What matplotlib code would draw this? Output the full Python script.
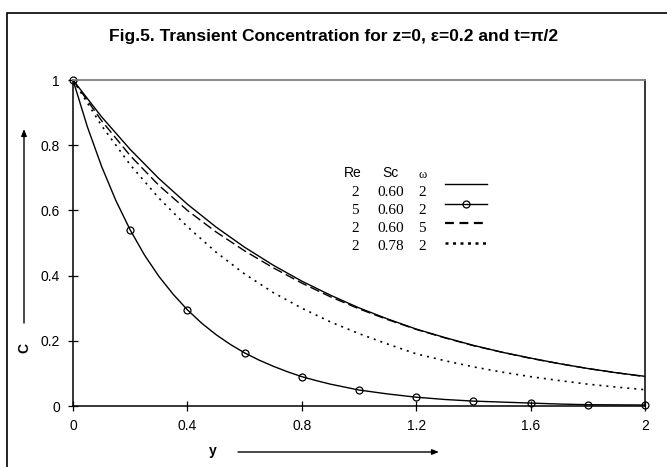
import matplotlib
matplotlib.use("Agg")
import matplotlib.pyplot as plt
from matplotlib.lines import Line2D
from matplotlib.patches import FancyArrowPatch, Rectangle

y_vals = [0.0, 0.1, 0.2, 0.3, 0.4, 0.5, 0.6, 0.7, 0.8, 0.9, 1.0,
          1.1, 1.2, 1.3, 1.4, 1.5, 1.6, 1.7, 1.8, 1.9, 2.0]
c_re2_sc060_w2 = [1.0, 0.887, 0.787, 0.698, 0.619, 0.549, 0.487, 0.432, 0.383, 0.340, 0.301,
                  0.267, 0.236, 0.210, 0.186, 0.165, 0.147, 0.130, 0.115, 0.102, 0.091]
c_re2_sc060_w5 = [1.0, 0.875, 0.768, 0.677, 0.600, 0.534, 0.476, 0.424, 0.377, 0.335, 0.298,
                  0.265, 0.235, 0.209, 0.185, 0.165, 0.146, 0.130, 0.115, 0.102, 0.090]
c_re2_sc078_w2 = [1.0, 0.860, 0.740, 0.638, 0.550, 0.472, 0.405, 0.348, 0.300, 0.258, 0.222,
                  0.190, 0.160, 0.139, 0.120, 0.104, 0.090, 0.078, 0.067, 0.058, 0.050]

# Re=5 curve read more finely near the wall (steep part)
y_re5 = [0.0, 0.05, 0.1, 0.15, 0.2, 0.25, 0.3, 0.35, 0.4, 0.45, 0.5, 0.55, 0.6, 0.65, 0.7,
         0.75, 0.8, 0.85, 0.9, 0.95, 1.0, 1.1, 1.2, 1.3, 1.4, 1.5, 1.6, 1.7, 1.8, 1.9, 2.0]
c_re5_sc060_w2 = [1.0, 0.857, 0.735, 0.630, 0.540, 0.463, 0.398, 0.343, 0.295, 0.254, 0.219,
                  0.189, 0.163, 0.141, 0.122, 0.105, 0.090, 0.078, 0.067, 0.058, 0.049,
                  0.037, 0.027, 0.020, 0.015, 0.012, 0.009, 0.006, 0.004, 0.0035, 0.003]
re5_marker_idx = [0, 4, 8, 12, 16, 20, 22, 24, 26, 28, 30]

x_ticks = [0, 0.4, 0.8, 1.2, 1.6, 2]
x_ticklabels = ["0", "0.4", "0.8", "1.2", "1.6", "2"]
y_ticks = [0, 0.2, 0.4, 0.6, 0.8, 1]
y_ticklabels = ["0", "0.2", "0.4", "0.6", "0.8", "1"]

legend_rows = [("2", "0.60", "2"), ("5", "0.60", "2"), ("2", "0.60", "5"), ("2", "0.78", "2")]

plt.rcParams['font.family'] = ['Liberation Sans', 'DejaVu Sans']

W, H = 667, 467
fig = plt.figure(figsize=(W / 100, H / 100), dpi=100)
ax = fig.add_axes([73 / W, 1 - 406 / H, (645 - 73) / W, (406 - 80) / H])

ax.plot(y_vals, c_re2_sc060_w2, color='black', lw=1.0)
ax.plot(y_re5, c_re5_sc060_w2, color='black', lw=1.0, marker='o', markevery=re5_marker_idx,
        markersize=5, markerfacecolor='none', markeredgecolor='black', markeredgewidth=0.9,
        clip_on=False)
ax.plot(y_vals, c_re2_sc060_w5, color='black', lw=1.0, dashes=(7, 3))
ax.plot(y_vals, c_re2_sc078_w2, color='black', lw=1.2, dashes=(1.2, 3))

ax.set_xlim(0, 2)
ax.set_ylim(0, 1)
ax.set_xticks(x_ticks)
ax.set_xticklabels(x_ticklabels)
ax.set_yticks(y_ticks)
ax.set_yticklabels(y_ticklabels)
ax.tick_params(direction='inout', length=7, width=0.9, labelsize=10, pad=6)
for s in ['left', 'bottom', 'right']:
    ax.spines[s].set_color('black')
    ax.spines[s].set_linewidth(1.1)
ax.spines['top'].set_color('#808080')
ax.spines['top'].set_linewidth(1.3)

def fx(px):
    return px / W

def fy(py):
    return 1 - py / H

# Title
fig.text(fx(334), fy(37), "Fig.5. Transient Concentration for z=0, \u03b5=0.2 and t=\u03c0/2",
         ha='center', va='center', fontsize=12.5, fontweight='bold')

# Axis labels with arrows
fig.text(fx(24), fy(348), "C", ha='center', va='center', fontsize=10, fontweight='bold', rotation=90)
fig.patches.append(FancyArrowPatch((fx(24), fy(323)), (fx(24), fy(129)), transform=fig.transFigure,
                                   arrowstyle='-|>,head_length=4,head_width=1.6', color='black', lw=1.0,
                                   shrinkA=0, shrinkB=0))
fig.text(fx(213), fy(451), "y", ha='center', va='center', fontsize=10, fontweight='bold')
fig.patches.append(FancyArrowPatch((fx(238), fy(452)), (fx(439), fy(452)), transform=fig.transFigure,
                                   arrowstyle='-|>,head_length=4,head_width=1.6', color='black', lw=1.0,
                                   shrinkA=0, shrinkB=0))

# Legend (manual)
fig.text(fx(353), fy(173), "Re", ha='center', va='center', fontsize=10)
fig.text(fx(390), fy(173), "Sc", ha='center', va='center', fontsize=10)
fig.text(fx(423), fy(175), "\u03c9", ha='center', va='center', fontsize=9, family='Liberation Serif')
row_y = [192, 210, 228, 246]
line_y = [184, 204, 223, 243]
styles = [dict(lw=1.0), dict(lw=1.0), dict(lw=1.6, dashes=(4, 2.5)), dict(lw=1.8, dashes=(1.2, 1.8))]
for i, (re, sc, w) in enumerate(legend_rows):
    fig.text(fx(355), fy(row_y[i]), re, ha='center', va='center', fontsize=11, family='Liberation Serif')
    fig.text(fx(391), fy(row_y[i]), sc, ha='center', va='center', fontsize=11, family='Liberation Serif')
    fig.text(fx(422), fy(row_y[i]), w, ha='center', va='center', fontsize=11, family='Liberation Serif')
    fig.lines.append(Line2D([fx(445), fx(487)], [fy(line_y[i]), fy(line_y[i])],
                            transform=fig.transFigure, color='black', **styles[i]))
fig.lines.append(Line2D([fx(466)], [fy(line_y[1])], transform=fig.transFigure, marker='o',
                        markersize=5, markerfacecolor='none', markeredgecolor='black',
                        markeredgewidth=0.9))

# Outer frame (left and top visible)
fig.patches.append(Rectangle((fx(7), fy(490)), fx(700), fy(13) - fy(490), transform=fig.transFigure,
                             fill=False, edgecolor='black', lw=1.2))

fig.savefig("out.png", dpi=100)
